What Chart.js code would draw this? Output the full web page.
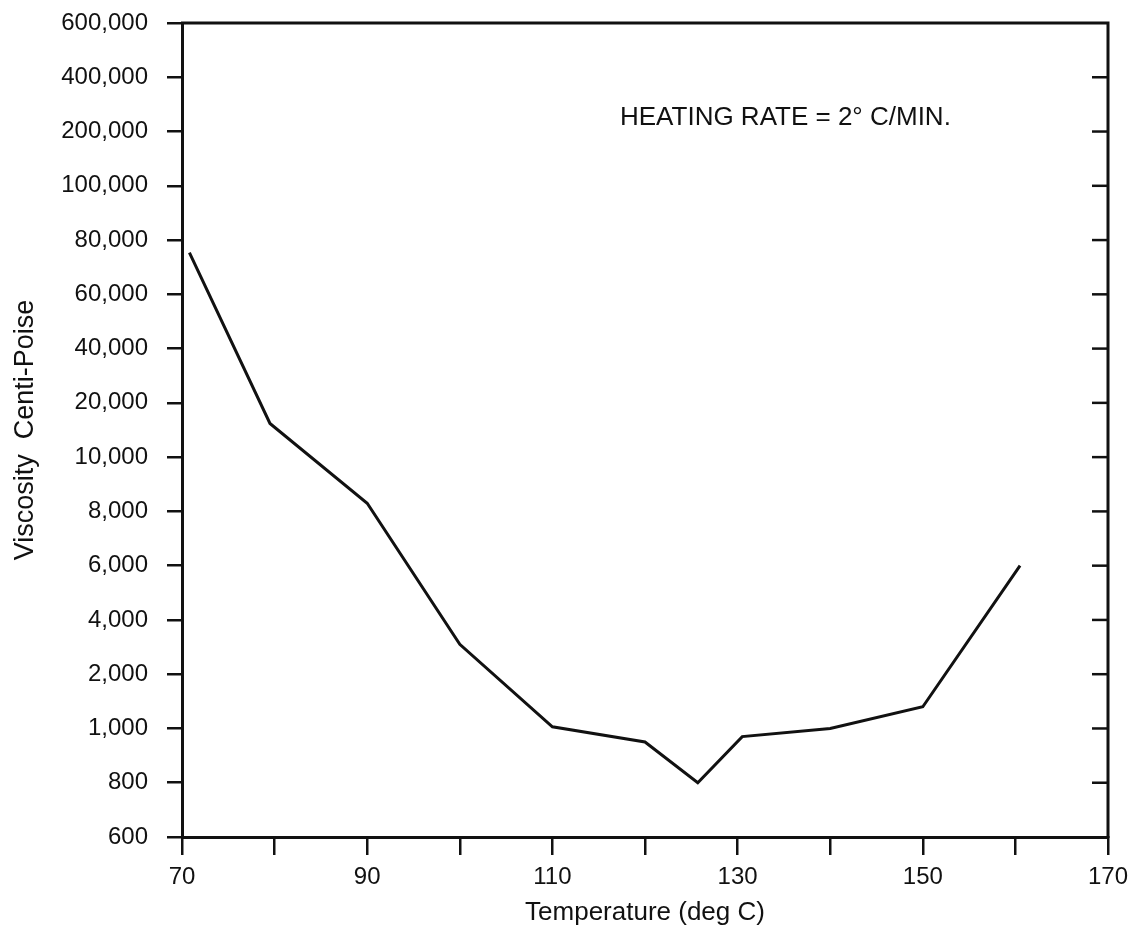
<!DOCTYPE html>
<html>
<head>
<meta charset="utf-8">
<script src="https://cdn.jsdelivr.net/npm/chart.js@4"></script>
<style>
  body { margin: 0; background: #fff; }
</style>
</head>
<body>
<canvas id="viscosityChart" width="1133" height="934"></canvas>
<script>
// y axis is not linear or log: each tick value sits one step above the last
const yTickValues = [600, 800, 1000, 2000, 4000, 6000, 8000, 10000, 20000, 40000, 60000, 80000, 100000, 200000, 400000, 600000];
const yTickLabels = ['600', '800', '1,000', '2,000', '4,000', '6,000', '8,000', '10,000', '20,000', '40,000', '60,000', '80,000', '100,000', '200,000', '400,000', '600,000'];

const temperatures = [70.8, 79.5, 90, 100, 110, 120, 125.7, 130.5, 140, 150, 160.5];
const viscosity = [75400, 16200, 8300, 3100, 1030, 950, 800, 970, 1000, 1400, 6000];

const noteText = 'HEATING RATE = 2\u00b0 C/MIN.';
const noteTemp = 117.3;
const noteViscosity = 250000;

const fontFamily = '"Liberation Sans", Arial, Helvetica, sans-serif';
const ink = '#111';

// position of a viscosity value along the stepped axis (0 = first tick)
const toStep = (v) => {
  for (let i = 0; i < yTickValues.length - 1; i++) {
    if (v <= yTickValues[i + 1]) {
      return i + (v - yTickValues[i]) / (yTickValues[i + 1] - yTickValues[i]);
    }
  }
  return yTickValues.length - 1;
};

const frame = {
  id: 'frame',
  afterDraw(chart) {
    const { ctx, chartArea, scales } = chart;
    ctx.save();
    ctx.strokeStyle = ink;
    ctx.lineWidth = 3;
    ctx.beginPath();
    ctx.moveTo(chartArea.left - 1, chartArea.top);
    ctx.lineTo(chartArea.right, chartArea.top);
    ctx.lineTo(chartArea.right, chartArea.bottom + 1);
    ctx.stroke();
    // inward ticks on the right side
    ctx.lineWidth = 2.5;
    for (let i = 1; i < yTickValues.length - 1; i++) {
      const y = scales.y.getPixelForValue(i);
      ctx.beginPath();
      ctx.moveTo(chartArea.right - 16, y);
      ctx.lineTo(chartArea.right, y);
      ctx.stroke();
    }
    ctx.fillStyle = ink;
    ctx.font = '26px ' + fontFamily;
    ctx.textBaseline = 'middle';
    ctx.textAlign = 'left';
    ctx.fillText(noteText, scales.x.getPixelForValue(noteTemp), scales.y.getPixelForValue(toStep(noteViscosity)));
    ctx.restore();
  }
};

new Chart(document.getElementById('viscosityChart'), {
  type: 'line',
  data: {
    datasets: [{
      data: temperatures.map((t, i) => ({ x: t, y: toStep(viscosity[i]) })),
      borderColor: ink,
      borderWidth: 3,
      pointRadius: 0,
      tension: 0,
      fill: false,
    }],
  },
  options: {
    responsive: false,
    animation: false,
    layout: { padding: { top: 23, right: 25, left: 0, bottom: 0 } },
    plugins: { legend: { display: false }, tooltip: { enabled: false } },
    scales: {
      x: {
        type: 'linear',
        min: 70,
        max: 170,
        afterFit: (scale) => {
          scale.height = 97;
          scale.paddingLeft = 0;
          scale.paddingRight = 0;
        },
        border: { display: true, color: ink, width: 3 },
        grid: { drawOnChartArea: false, drawTicks: true, tickLength: 18, color: ink, lineWidth: 2.5 },
        ticks: {
          stepSize: 10,
          autoSkip: false,
          maxRotation: 0,
          padding: 8,
          color: ink,
          font: { family: fontFamily, size: 24 },
          callback: (v) => ((v - 70) % 20 === 0 ? v : ''),
        },
        title: {
          display: true,
          text: 'Temperature (deg C)',
          color: ink,
          font: { family: fontFamily, size: 26 },
          padding: { top: 0, bottom: 6 },
        },
      },
      y: {
        type: 'linear',
        min: 0,
        max: yTickValues.length - 1,
        afterFit: (scale) => {
          scale.width = 182;
          scale.paddingTop = 0;
          scale.paddingBottom = 0;
        },
        border: { display: true, color: ink, width: 3 },
        grid: { drawOnChartArea: false, drawTicks: true, tickLength: 15, color: ink, lineWidth: 2.5 },
        ticks: {
          stepSize: 1,
          autoSkip: false,
          maxTicksLimit: 20,
          padding: 19,
          color: ink,
          font: { family: fontFamily, size: 24 },
          callback: (v) => yTickLabels[v],
        },
        title: {
          display: true,
          text: 'Viscosity  Centi-Poise',
          color: ink,
          font: { family: fontFamily, size: 27 },
          padding: { top: 9, bottom: 0 },
        },
      },
    },
  },
  plugins: [frame],
});
</script>
</body>
</html>
